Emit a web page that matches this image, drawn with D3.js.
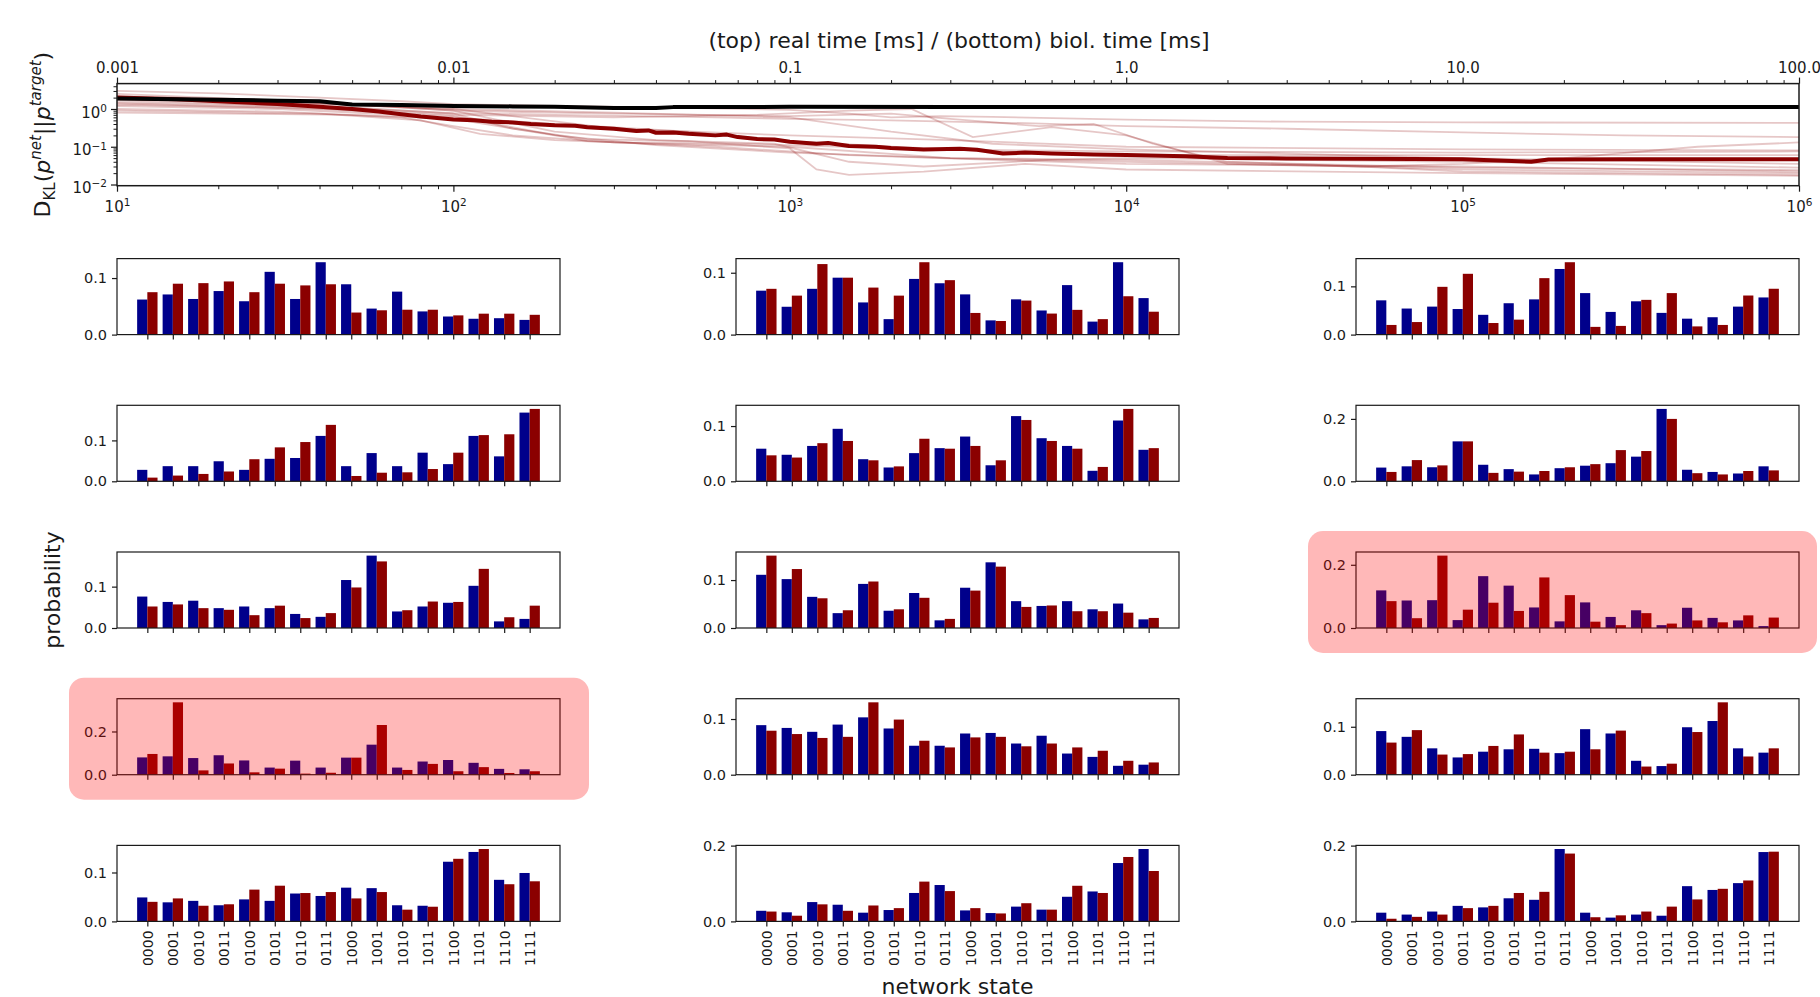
<!DOCTYPE html>
<html>
<head>
<meta charset="utf-8">
<script src="https://cdn.jsdelivr.net/npm/d3@7"></script>
<style>
  body { margin: 0; background: #fff; }
  svg { display: block; }
  text { font-family: "DejaVu Sans", sans-serif; fill: #1a1a1a; }
</style>
</head>
<body>
<svg id="fig" width="1820" height="997"></svg>
<script>
// ---------------- data ----------------
const states = ["0000","0001","0010","0011","0100","0101","0110","0111",
                "1000","1001","1010","1011","1100","1101","1110","1111"];

// sampled network distribution (blue), one row of 16 states per panel, row-major order
const netProb = [
  [0.062,0.071,0.063,0.077,0.059,0.111,0.063,0.128,0.089,0.046,0.076,0.041,0.032,0.028,0.029,0.026],
  [0.071,0.045,0.074,0.092,0.052,0.025,0.090,0.083,0.065,0.023,0.057,0.039,0.080,0.021,0.117,0.059],
  [0.071,0.054,0.058,0.053,0.041,0.065,0.073,0.136,0.086,0.047,0.069,0.045,0.033,0.036,0.058,0.077],
  [0.028,0.037,0.037,0.049,0.028,0.055,0.057,0.111,0.037,0.069,0.037,0.070,0.042,0.111,0.061,0.168],
  [0.059,0.048,0.064,0.095,0.040,0.025,0.051,0.060,0.081,0.029,0.118,0.078,0.064,0.019,0.110,0.057],
  [0.044,0.048,0.045,0.128,0.053,0.039,0.022,0.042,0.050,0.058,0.079,0.232,0.037,0.030,0.025,0.048],
  [0.076,0.063,0.066,0.048,0.052,0.048,0.034,0.027,0.116,0.175,0.040,0.052,0.061,0.102,0.016,0.022],
  [0.111,0.102,0.065,0.031,0.092,0.036,0.073,0.016,0.084,0.137,0.056,0.046,0.056,0.039,0.051,0.018],
  [0.119,0.087,0.088,0.025,0.164,0.134,0.065,0.021,0.081,0.035,0.056,0.009,0.064,0.032,0.024,0.006],
  [0.080,0.085,0.077,0.090,0.066,0.033,0.065,0.033,0.079,0.139,0.033,0.061,0.068,0.055,0.027,0.025],
  [0.089,0.084,0.077,0.090,0.103,0.083,0.052,0.052,0.074,0.075,0.056,0.070,0.038,0.032,0.016,0.018],
  [0.091,0.079,0.055,0.036,0.048,0.053,0.054,0.045,0.095,0.086,0.029,0.018,0.099,0.112,0.055,0.046],
  [0.049,0.039,0.042,0.033,0.045,0.042,0.057,0.052,0.069,0.068,0.033,0.032,0.122,0.142,0.085,0.099],
  [0.028,0.024,0.051,0.044,0.023,0.030,0.075,0.096,0.029,0.022,0.039,0.031,0.065,0.079,0.154,0.191],
  [0.023,0.018,0.026,0.041,0.037,0.061,0.057,0.191,0.023,0.010,0.018,0.015,0.093,0.083,0.101,0.183]
];

// target distribution (red)
const targetProb = [
  [0.075,0.090,0.091,0.094,0.075,0.090,0.087,0.089,0.039,0.043,0.044,0.044,0.034,0.037,0.037,0.035],
  [0.074,0.063,0.114,0.092,0.076,0.063,0.117,0.088,0.035,0.022,0.055,0.034,0.040,0.025,0.062,0.037],
  [0.020,0.026,0.099,0.126,0.024,0.031,0.117,0.150,0.016,0.018,0.072,0.086,0.017,0.020,0.081,0.095],
  [0.009,0.014,0.018,0.024,0.054,0.083,0.096,0.138,0.013,0.021,0.022,0.030,0.070,0.113,0.115,0.177],
  [0.047,0.043,0.069,0.073,0.038,0.027,0.077,0.059,0.064,0.038,0.111,0.073,0.059,0.026,0.131,0.060],
  [0.030,0.068,0.051,0.128,0.027,0.031,0.033,0.045,0.055,0.100,0.097,0.200,0.026,0.022,0.033,0.035],
  [0.052,0.057,0.048,0.044,0.031,0.054,0.024,0.036,0.098,0.161,0.043,0.064,0.063,0.143,0.026,0.054],
  [0.151,0.123,0.062,0.037,0.097,0.039,0.063,0.019,0.078,0.128,0.044,0.047,0.035,0.035,0.032,0.021],
  [0.085,0.031,0.229,0.058,0.080,0.054,0.160,0.104,0.020,0.009,0.047,0.014,0.024,0.018,0.040,0.033],
  [0.096,0.335,0.020,0.052,0.011,0.028,0.005,0.009,0.079,0.230,0.022,0.050,0.016,0.035,0.008,0.016],
  [0.079,0.073,0.066,0.068,0.130,0.099,0.061,0.049,0.067,0.068,0.051,0.056,0.049,0.043,0.025,0.022],
  [0.067,0.093,0.042,0.043,0.060,0.084,0.046,0.048,0.053,0.092,0.017,0.023,0.089,0.151,0.038,0.055],
  [0.040,0.047,0.032,0.035,0.065,0.073,0.058,0.060,0.047,0.060,0.024,0.030,0.128,0.148,0.076,0.082],
  [0.026,0.015,0.045,0.028,0.042,0.035,0.105,0.080,0.035,0.021,0.048,0.031,0.094,0.075,0.170,0.133],
  [0.007,0.012,0.018,0.035,0.041,0.075,0.078,0.179,0.011,0.016,0.026,0.039,0.058,0.086,0.108,0.184]
];

// panels drawn with a red highlight box
const highlightedPanels = [8, 9];

// D_KL trajectories: [biological time in ms, divergence]
const biolTimeTicks = [1e1, 1e2, 1e3, 1e4, 1e5, 1e6];
const realTimeTicks = [0.001, 0.01, 0.1, 1, 10, 100];
const realTimeLabels = ["0.001", "0.01", "0.1", "1.0", "10.0", "100.0"];
const dklTicks = [0.01, 0.1, 1];

const dklBaseline = [
  [10,1.9],[15,1.82],[20,1.75],[30,1.66],[40,1.6],[45,1.45],[50,1.32],[70,1.28],[100,1.2],
  [150,1.17],[200,1.15],[300,1.06],[400,1.06],[450,1.12],[700,1.13],[1000,1.14],[3000,1.13],
  [1e4,1.13],[1e5,1.13],[1e6,1.13]
];

const dklMean = [
  [10,2.0],[15,1.8],[20,1.6],[30,1.35],[40,1.15],[50,1.0],[60,0.86],[70,0.73],[80,0.63],
  [100,0.53],[115,0.5],[130,0.46],[150,0.44],[170,0.4],[200,0.37],[230,0.36],[250,0.33],
  [300,0.3],[350,0.26],[380,0.27],[400,0.235],[450,0.24],[500,0.22],[600,0.2],[650,0.21],
  [700,0.18],[800,0.16],[900,0.155],[1000,0.135],[1200,0.12],[1300,0.125],[1500,0.105],
  [1800,0.1],[2000,0.092],[2500,0.085],[3200,0.088],[3600,0.083],[4300,0.066],[5000,0.07],
  [6000,0.066],[8000,0.062],[1e4,0.06],[1.5e4,0.056],[2e4,0.05],[3e4,0.049],[5e4,0.048],
  [1e5,0.047],[1.4e5,0.042],[1.6e5,0.04],[1.8e5,0.046],[3e5,0.047],[5e5,0.047],[1e6,0.047]
];

const dklRuns = [
  [[10,3.0],[20,2.6],[40,2.0],[70,1.6],[100,1.35],[200,1.2],[400,1.1],[1000,0.95],[1500,0.75],[2000,0.6],[2800,0.65],[4000,0.62],[1e4,0.52],[3e4,0.46],[1e5,0.44],[1e6,0.43]],
  [[10,1.7],[20,1.4],[50,1.05],[100,0.78],[200,0.7],[500,0.62],[1000,0.55],[2000,0.5],[5000,0.42],[1e4,0.35],[3e4,0.3],[1e5,0.24],[3e5,0.2],[1e6,0.18]],
  [[10,1.3],[30,1.1],[60,0.9],[100,0.7],[300,0.6],[800,0.7],[1500,0.9],[2300,1.0],[3500,0.18],[6000,0.33],[1e4,0.2],[2e4,0.035],[5e4,0.03],[1e5,0.025],[1e6,0.02]],
  [[10,2.2],[25,1.8],[60,1.2],[100,0.9],[300,0.75],[1000,0.65],[2000,0.75],[3000,0.55],[5500,0.35],[8000,0.4],[1.2e4,0.12],[2e4,0.04],[5e4,0.03],[1e5,0.035],[2e5,0.05],[5e5,0.1],[1e6,0.13]],
  [[10,1.0],[30,0.85],[70,0.6],[100,0.35],[150,0.2],[300,0.13],[700,0.12],[1000,0.11],[2000,0.09],[5000,0.08],[1e4,0.075],[1e5,0.07],[1e6,0.075]],
  [[10,0.9],[40,0.75],[80,0.5],[120,0.22],[200,0.15],[400,0.12],[1000,0.1],[3000,0.05],[1e4,0.04],[5e4,0.03],[1e5,0.022],[1e6,0.018]],
  [[10,1.5],[50,1.1],[100,0.75],[150,0.3],[250,0.16],[500,0.14],[1000,0.09],[1200,0.025],[1500,0.018],[2500,0.022],[5000,0.035],[1e4,0.025],[1e5,0.02],[1e6,0.017]],
  [[10,2.5],[40,1.5],[100,0.9],[200,0.25],[400,0.15],[900,0.12],[1500,0.04],[2500,0.03],[6000,0.045],[1e4,0.05],[1e5,0.04],[1e6,0.028]],
  [[10,1.2],[30,1.0],[100,0.6],[200,0.4],[500,0.25],[1000,0.14],[2000,0.1],[5000,0.07],[1e4,0.06],[1e5,0.06],[1e6,0.06]],
  [[10,2.0],[50,1.3],[100,1.0],[300,0.8],[1000,0.6],[2000,0.25],[4000,0.12],[1e4,0.085],[1e5,0.05],[1e6,0.035]],
  [[10,0.8],[50,0.7],[100,0.55],[200,0.2],[400,0.11],[1000,0.07],[3000,0.05],[1e4,0.045],[1e5,0.028],[1e6,0.024]],
  [[10,1.8],[30,1.5],[100,1.0],[300,0.3],[1000,0.2],[3000,0.15],[1e4,0.1],[1e5,0.085],[1e6,0.08]],
  [[10,1.4],[40,1.0],[100,0.65],[250,0.14],[600,0.1],[1500,0.06],[4000,0.045],[1e4,0.035],[1e5,0.03],[1e6,0.022]]
];

// ---------------- layout ----------------
const svg = d3.select("#fig");
const BLUE = "#00008b", RED = "#8b0000", INK = "#1a1a1a";

const dklBox = { x0: 117, x1: 1799, y0: 83.6, y1: 185.7 };
const colLeft = [117, 736, 1356], panelW = 443;
const rowTop = [258.6, 405.3, 552, 698.7, 845.4], panelH = 76;

function styleAxis(g, size) {
  g.attr("font-family", null).attr("font-size", null);
  g.select(".domain").remove();
  g.selectAll(".tick line").attr("stroke", INK).attr("stroke-width", 1.2);
  g.selectAll(".tick text").attr("fill", INK).style("font-size", size + "px");
}

// ---------------- top panel: divergence over time ----------------
const xBiol = d3.scaleLog().domain([10, 1e6]).range([dklBox.x0, dklBox.x1]);
const xReal = d3.scaleLog().domain([0.001, 100]).range([dklBox.x0, dklBox.x1]);
const yDkl = d3.scaleLog().domain([0.0093, 4.7]).range([dklBox.y1, dklBox.y0]);

svg.append("defs").append("clipPath").attr("id", "dklClip")
  .append("rect").attr("x", dklBox.x0).attr("y", dklBox.y0)
  .attr("width", dklBox.x1 - dklBox.x0).attr("height", dklBox.y1 - dklBox.y0);

const line = d3.line().x(d => xBiol(d[0])).y(d => yDkl(d[1]));
const lines = svg.append("g").attr("clip-path", "url(#dklClip)");
lines.selectAll("path.run").data(dklRuns).join("path").attr("class", "run")
  .attr("d", line).attr("fill", "none")
  .attr("stroke", RED).attr("stroke-opacity", 0.22).attr("stroke-width", 1.8);
lines.append("path").datum(dklMean).attr("d", line).attr("fill", "none")
  .attr("stroke", RED).attr("stroke-width", 4).attr("stroke-linejoin", "round");
lines.append("path").datum(dklBaseline).attr("d", line).attr("fill", "none")
  .attr("stroke", "#000").attr("stroke-width", 4).attr("stroke-linejoin", "round");

// minor tick values for the log axes
function minorTicks(lo, hi) {
  const out = [];
  for (let e = Math.floor(Math.log10(lo)); e <= Math.ceil(Math.log10(hi)); e++)
    for (let m = 2; m <= 9; m++) {
      const v = m * Math.pow(10, e);
      if (v > lo && v < hi) out.push(v);
    }
  return out;
}

// bottom axis: biological time
const gxb = svg.append("g").attr("transform", `translate(0,${dklBox.y1})`)
  .call(d3.axisBottom(xBiol).tickValues(biolTimeTicks).tickSize(6).tickPadding(5).tickFormat(() => ""));
styleAxis(gxb, 15);
gxb.selectAll(".tick text").each(function(d) {
  const t = d3.select(this).attr("dy", "1.0em");
  t.append("tspan").text("10");
  t.append("tspan").attr("dy", "-0.5em").style("font-size", "10.5px").text(Math.round(Math.log10(d)));
});
const gxbm = svg.append("g").attr("transform", `translate(0,${dklBox.y1})`)
  .call(d3.axisBottom(xBiol).tickValues(minorTicks(10, 1e6)).tickSize(3.5).tickFormat(() => ""));
styleAxis(gxbm, 10);
gxbm.selectAll(".tick line").attr("stroke-width", 1);

// top axis: real time
const gxr = svg.append("g").attr("transform", `translate(0,${dklBox.y0})`)
  .call(d3.axisTop(xReal).tickValues(realTimeTicks).tickSize(6).tickPadding(5)
    .tickFormat((d, i) => realTimeLabels[i]));
styleAxis(gxr, 15);
const gxrm = svg.append("g").attr("transform", `translate(0,${dklBox.y0})`)
  .call(d3.axisTop(xReal).tickValues(minorTicks(0.001, 100)).tickSize(3.5).tickFormat(() => ""));
styleAxis(gxrm, 10);
gxrm.selectAll(".tick line").attr("stroke-width", 1);

// left axis: divergence
const gy = svg.append("g").attr("transform", `translate(${dklBox.x0},0)`)
  .call(d3.axisLeft(yDkl).tickValues(dklTicks).tickSize(6).tickPadding(4).tickFormat(() => ""));
styleAxis(gy, 15);
gy.selectAll(".tick text").each(function(d) {
  const t = d3.select(this).attr("dy", "0.55em");
  t.append("tspan").text("10");
  t.append("tspan").attr("dy", "-0.55em").style("font-size", "10.5px")
    .text(String(Math.round(Math.log10(d))).replace("-", "\u2212"));
});
const gym = svg.append("g").attr("transform", `translate(${dklBox.x0},0)`)
  .call(d3.axisLeft(yDkl).tickValues(minorTicks(0.0093, 4.7)).tickSize(3.5).tickFormat(() => ""));
styleAxis(gym, 10);
gym.selectAll(".tick line").attr("stroke-width", 1);

svg.append("rect").attr("x", dklBox.x0).attr("y", dklBox.y0)
  .attr("width", dklBox.x1 - dklBox.x0).attr("height", dklBox.y1 - dklBox.y0)
  .attr("fill", "none").attr("stroke", INK).attr("stroke-width", 1.5);

svg.append("text").attr("x", 959).attr("y", 40).attr("text-anchor", "middle")
  .attr("dominant-baseline", "central").style("font-size", "22px")
  .text("(top) real time [ms] / (bottom) biol. time [ms]");

// y label: D_KL(p^net || p^target)
const dkl = svg.append("text")
  .attr("transform", `translate(50,${(dklBox.y0 + dklBox.y1) / 2}) rotate(-90)`)
  .attr("text-anchor", "middle").style("font-size", "22px");
dkl.append("tspan").text("D");
dkl.append("tspan").attr("dy", 5).style("font-size", "15px").text("KL");
dkl.append("tspan").attr("dy", -5).text("(");
dkl.append("tspan").style("font-style", "italic").text("p");
dkl.append("tspan").attr("dy", -9).style("font-size", "15px").style("font-style", "italic").text("net");
dkl.append("tspan").attr("dy", 9).text("||");
dkl.append("tspan").style("font-style", "italic").text("p");
dkl.append("tspan").attr("dy", -9).style("font-size", "15px").style("font-style", "italic").text("target");
dkl.append("tspan").attr("dy", 9).text(")");

// ---------------- bar panels ----------------
const fmt = d3.format(".1f");
netProb.forEach((net, p) => {
  const row = Math.floor(p / 3), col = p % 3;
  const x0 = colLeft[col], y0 = rowTop[row];
  const target = targetProb[p];
  const g = svg.append("g").attr("transform", `translate(${x0},${y0})`);

  const x = d3.scaleLinear().domain([-1.19, states.length - 1 + 1.19]).range([0, panelW]);
  const ymax = 1.05 * d3.max(net.concat(target));
  const y = d3.scaleLinear().domain([0, ymax]).range([panelH, 0]);
  const step = ymax >= 0.2 ? 0.2 : 0.1;
  const yt = d3.range(0, ymax + 1e-9, step);

  g.selectAll("rect.net").data(net).join("rect").attr("class", "net")
    .attr("x", (d, i) => x(i - 0.4)).attr("width", x(0.4) - x(0))
    .attr("y", d => y(d)).attr("height", d => y(0) - y(d)).attr("fill", BLUE);
  g.selectAll("rect.target").data(target).join("rect").attr("class", "target")
    .attr("x", (d, i) => x(i)).attr("width", x(0.4) - x(0))
    .attr("y", d => y(d)).attr("height", d => y(0) - y(d)).attr("fill", RED);

  const ga = g.append("g").call(d3.axisLeft(y).tickValues(yt).tickSize(5).tickPadding(5).tickFormat(fmt));
  styleAxis(ga, 14.5);

  const gb = g.append("g").attr("transform", `translate(0,${panelH})`)
    .call(d3.axisBottom(x).tickValues(d3.range(states.length)).tickSize(5)
      .tickFormat(i => row === rowTop.length - 1 ? states[i] : ""));
  styleAxis(gb, 14);
  if (row === rowTop.length - 1) {
    gb.selectAll(".tick text")
      .attr("transform", "rotate(-90)").attr("text-anchor", "end")
      .attr("x", -9).attr("y", 0).attr("dy", "0.36em");
  }

  g.append("rect").attr("width", panelW).attr("height", panelH)
    .attr("fill", "none").attr("stroke", INK).attr("stroke-width", 1.2);

  if (highlightedPanels.includes(p)) {
    const hx0 = x0 - 48, hx1 = Math.min(x0 + panelW + 29, 1817);
    svg.append("rect").attr("x", hx0).attr("y", y0 - 21)
      .attr("width", hx1 - hx0).attr("height", panelH + 46)
      .attr("rx", 15).attr("ry", 15)
      .attr("fill", "red").attr("fill-opacity", 0.28);
  }
});

svg.append("text")
  .attr("transform", `translate(52,${rowTop[2] + panelH / 2}) rotate(-90)`)
  .attr("text-anchor", "middle").attr("dominant-baseline", "central")
  .style("font-size", "22px").text("probability");

svg.append("text").attr("x", colLeft[1] + panelW / 2).attr("y", 986)
  .attr("text-anchor", "middle").attr("dominant-baseline", "central")
  .style("font-size", "22px").text("network state");
</script>
</body>
</html>
